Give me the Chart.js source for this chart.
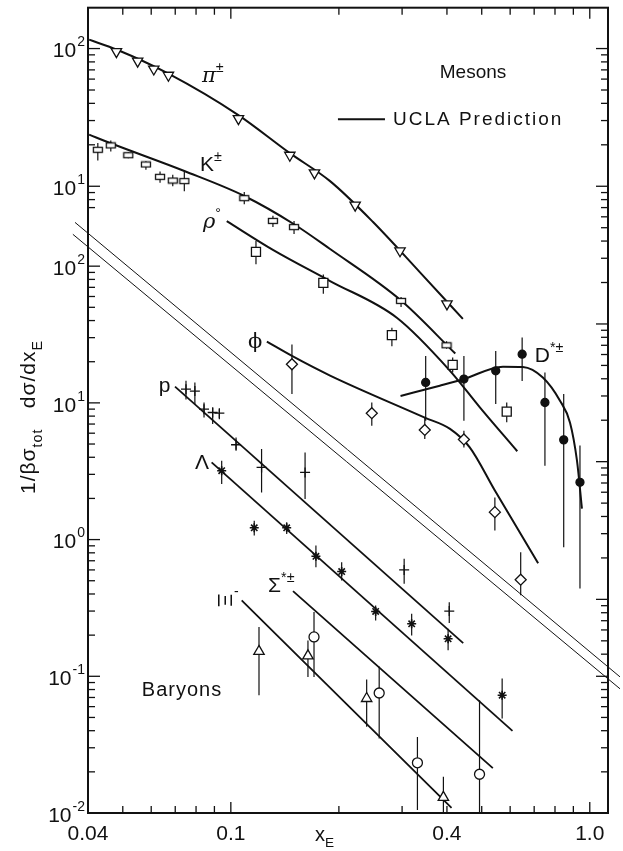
<!DOCTYPE html>
<html>
<head>
<meta charset="utf-8">
<script src="https://cdn.jsdelivr.net/npm/chart.js@4.4.0/dist/chart.umd.min.js"></script>
<style>
  html, body { margin: 0; padding: 0; background: #fff; }
  canvas { display: block; }
</style>
</head>
<body>
<canvas id="chart" width="623" height="851"></canvas>
<script>
const INK = '#111';
const FONT = '"Liberation Sans", Arial, sans-serif';
const SERIF = '"DejaVu Serif", "Liberation Serif", serif';

// ---- mesons (read on the upper scale, 10^2 / 10^1 at top left) ----
const piX = [0.048, 0.055, 0.061, 0.067, 0.105, 0.146, 0.171, 0.222, 0.296, 0.400];
const piY = [95, 81, 71, 64, 31, 16.8, 12.5, 7.3, 3.4, 1.40];
const piCurveX = [0.0403, 0.0482, 0.0668, 0.1047, 0.146, 0.189, 0.249, 0.336, 0.443];
const piCurveY = [116, 98, 66, 33, 17.4, 10.9, 5.5, 2.38, 1.09];

const kX = [0.0426, 0.0463, 0.0518, 0.058, 0.0635, 0.0689, 0.0742, 0.109, 0.131, 0.150, 0.298, 0.399];
const kY = [18.4, 19.8, 16.8, 14.4, 11.7, 11.0, 10.9, 8.2, 5.6, 5.05, 1.47, 0.70];
const kLo = [15.4, 17.9, 16.0, 13.2, 10.6, 10.0, 9.2, 7.4, 5.05, 4.5, 1.33, 0.66];
const kHi = [20.6, 21.5, 17.6, 15.2, 12.8, 12.1, 12.8, 9.1, 6.1, 5.6, 1.57, 0.75];
const kCurveX = [0.0403, 0.0461, 0.0742, 0.109, 0.150, 0.189, 0.298, 0.422];
const kCurveY = [23.7, 20.6, 12.9, 8.5, 5.3, 3.5, 1.48, 0.61];

const rhoX = [0.1175, 0.181, 0.281, 0.415, 0.587];
const rhoY = [3.34, 1.99, 0.83, 0.505, 0.231];
const rhoLo = [2.71, 1.66, 0.69, 0.444, 0.193];
const rhoHi = [4.0, 2.29, 0.94, 0.57, 0.269];
const rhoCurveX = [0.0974, 0.131, 0.189, 0.290, 0.408, 0.494, 0.628];
const rhoCurveY = [5.58, 3.45, 2.05, 1.11, 0.457, 0.248, 0.119];

const phiX = [0.148, 0.247, 0.347, 0.446, 0.544, 0.642];
const phiY = [0.51, 0.225, 0.170, 0.145, 0.043, 0.0139];
const phiLo = [0.31, 0.182, 0.146, 0.127, 0.0316, 0.0107];
const phiHi = [0.71, 0.269, 0.209, 0.168, 0.055, 0.022];
const phiCurveX = [0.126, 0.148, 0.189, 0.347, 0.408, 0.463, 0.544, 0.718];
const phiCurveY = [0.744, 0.586, 0.422, 0.209, 0.173, 0.127, 0.0617, 0.0183];

const dX = [0.349, 0.446, 0.547, 0.648, 0.750, 0.846, 0.939];
const dY = [0.376, 0.398, 0.457, 0.603, 0.269, 0.144, 0.0708];
const dLo = [0.198, 0.198, 0.262, 0.386, 0.0935, 0.0239, 0.012];
const dHi = [0.586, 0.586, 0.637, 0.796, 0.444, 0.31, 0.131];
const dCurveX = [0.297, 0.382, 0.446, 0.573, 0.651, 0.740, 0.826, 0.881, 0.921, 0.951];
const dCurveY = [0.300, 0.356, 0.398, 0.490, 0.487, 0.408, 0.277, 0.192, 0.102, 0.0456];

// ---- baryons (read on the lower scale) ----
const pX = [0.075, 0.0794, 0.0842, 0.089, 0.0929, 0.1034, 0.1218, 0.161, 0.304, 0.406];
const pY = [12.6, 12.2, 9.0, 8.5, 8.4, 4.94, 3.37, 3.10, 0.60, 0.30];
const pLo = [10.6, 9.8, 7.8, 7.0, 7.6, 4.47, 2.21, 1.98, 0.475, 0.245];
const pHi = [14.5, 14.1, 10.05, 9.24, 9.0, 5.58, 4.59, 4.34, 0.723, 0.348];
const pLineX = [0.0699, 0.444];
const pLineY = [13.15, 0.175];

const lamX = [0.0943, 0.1162, 0.1431, 0.1726, 0.2036, 0.2532, 0.319, 0.403, 0.570];
const lamY = [3.19, 1.22, 1.22, 0.755, 0.584, 0.298, 0.242, 0.188, 0.0727];
const lamLo = [2.55, 1.07, 1.10, 0.628, 0.502, 0.256, 0.199, 0.155, 0.0491];
const lamHi = [3.77, 1.376, 1.338, 0.904, 0.683, 0.33, 0.287, 0.223, 0.0962];
const lamLineX = [0.0884, 0.609];
const lamLineY = [3.67, 0.0399];

const sigX = [0.1705, 0.259, 0.331, 0.493];
const sigY = [0.194, 0.0755, 0.0233, 0.0192];
const sigLo = [0.099, 0.0351, 0.0105, 0.005];
const sigHi = [0.295, 0.118, 0.036, 0.0668];
const sigLineX = [0.149, 0.537];
const sigLineY = [0.42, 0.0213];

const xiX = [0.1198, 0.164, 0.239, 0.391];
const xiY = [0.152, 0.141, 0.0688, 0.0130];
const xiLo = [0.0727, 0.099, 0.0427, 0.0095];
const xiHi = [0.229, 0.183, 0.0946, 0.0184];
const xiLineX = [0.1072, 0.412];
const xiLineY = [0.359, 0.0109];

// double line separating the two panels (lower scale)
const sepAX = [0.0368, 1.214];
const sepAY = [209, 0.099];
const sepBX = [0.0363, 1.214];
const sepBY = [171, 0.081];

// axis ticks
const xTickLabels = [0.04, 0.1, 0.4, 1.0];
const upperDecades = [100, 10];
const lowerDecades = [100, 10, 1, 0.1, 0.01];

function pts(xs, ys) {
  return xs.map((x, i) => ({ x: x, y: ys[i] }));
}

function curve(xs, ys, axis, width) {
  return { data: pts(xs, ys), yAxisID: axis, showLine: true, pointRadius: 0,
    borderColor: INK, borderWidth: width, cubicInterpolationMode: 'monotone', order: 1 };
}

function marks(xs, ys, lo, hi, axis, style) {
  return Object.assign({ data: pts(xs, ys), yAxisID: axis, showLine: false, errLo: lo, errHi: hi,
    pointBorderColor: INK, pointBackgroundColor: '#fff', pointBorderWidth: 1.3, order: 0 }, style);
}

// little open box used for the K points
const kBox = document.createElement('canvas');
kBox.width = 12; kBox.height = 8;
const kc = kBox.getContext('2d');
kc.fillStyle = '#fff'; kc.fillRect(1, 1, 10, 6);
kc.strokeStyle = INK; kc.lineWidth = 1.3; kc.strokeRect(1.5, 1.5, 9, 5);

// vertical error bars, drawn under the markers
const errorBars = {
  id: 'errorBars',
  beforeDatasetsDraw(chart) {
    const ctx = chart.ctx, a = chart.chartArea, xs = chart.scales.x;
    ctx.save();
    ctx.beginPath(); ctx.rect(a.left, a.top, a.right - a.left, a.bottom - a.top); ctx.clip();
    ctx.strokeStyle = INK; ctx.lineWidth = 1.2;
    chart.data.datasets.forEach(ds => {
      if (!ds.errLo) return;
      const ys = chart.scales[ds.yAxisID];
      ds.data.forEach((p, i) => {
        const px = xs.getPixelForValue(p.x);
        ctx.beginPath();
        ctx.moveTo(px, ys.getPixelForValue(ds.errLo[i]));
        ctx.lineTo(px, ys.getPixelForValue(ds.errHi[i]));
        ctx.stroke();
      });
    });
    ctx.restore();
  }
};

function logValues(lo, hi) {
  const out = [];
  for (let e = -4; e <= 3; e++) {
    for (let m = 1; m <= 9; m++) {
      const v = m * Math.pow(10, e);
      if (v >= lo * 0.999 && v <= hi * 1.001) out.push({ v: v, major: m === 1 });
    }
  }
  return out;
}

function richWidth(ctx, parts, size) {
  let w = 0;
  parts.forEach(p => {
    const s = (p.sub || p.sup) ? size * 0.68 : size;
    ctx.font = (p.italic ? 'italic ' : '') + s + 'px ' + (p.family || FONT);
    w += ctx.measureText(p.t).width;
  });
  return w;
}

function drawRich(ctx, parts, x, y, size) {
  let cx = x;
  parts.forEach(p => {
    const s = (p.sub || p.sup) ? size * 0.68 : size;
    ctx.font = (p.italic ? 'italic ' : '') + s + 'px ' + (p.family || FONT);
    const dy = p.sub ? size * 0.32 : p.sup ? -size * 0.38 : 0;
    ctx.fillText(p.t, cx, y + dy);
    cx += ctx.measureText(p.t).width;
  });
}

// curve / particle labels, placed in data coordinates
const curveLabels = [
  { parts: [{ t: 'π', italic: true, family: SERIF }, { t: '±', sup: true }], x: 0.0831, y: 62.7, axis: 'yU' },
  { parts: [{ t: 'K' }, { t: '±', sup: true }], x: 0.082, y: 14.3, axis: 'yU' },
  { parts: [{ t: 'ρ', italic: true, family: SERIF }, { t: '°', sup: true }], x: 0.0836, y: 5.49, axis: 'yU' },
  { parts: [{ t: 'ϕ', family: SERIF }], x: 0.1116, y: 0.728, axis: 'yU' },
  { parts: [{ t: 'D' }, { t: '*±', sup: true }], x: 0.703, y: 0.586, axis: 'yU' },
  { parts: [{ t: 'p' }], x: 0.063, y: 13.3, axis: 'y' },
  { parts: [{ t: 'Λ' }], x: 0.0794, y: 3.65, axis: 'y' },
  { parts: [{ t: 'Σ' }, { t: '*±', sup: true }], x: 0.127, y: 0.454, axis: 'y' },
  { parts: [{ t: 'Baryons' }], x: 0.0565, y: 0.079, axis: 'y', size: 20, spacing: 1 },
  { parts: [{ t: 'Mesons' }], x: 0.382, y: 66.6, axis: 'yU', size: 19 }
];

const frame = {
  id: 'frame',
  afterDraw(chart) {
    const ctx = chart.ctx, a = chart.chartArea;
    const xs = chart.scales.x, yl = chart.scales.y, yu = chart.scales.yU;
    ctx.save();
    ctx.strokeStyle = INK; ctx.fillStyle = INK;

    // frame
    ctx.lineWidth = 2;
    ctx.strokeRect(a.left, a.top, a.right - a.left, a.bottom - a.top);

    // x ticks, top and bottom, pointing inward
    ctx.lineWidth = 1.3;
    logValues(0.05, 1.0).forEach(t => {
      const px = xs.getPixelForValue(t.v), len = t.major ? 11 : 7;
      ctx.beginPath();
      ctx.moveTo(px, a.bottom); ctx.lineTo(px, a.bottom - len);
      ctx.moveTo(px, a.top); ctx.lineTo(px, a.top + len);
      ctx.stroke();
    });

    // y ticks: upper scale above the double line, lower scale below it
    function yTicks(scale, lo, hi, x, dir) {
      logValues(Math.max(lo, scale.min), Math.min(hi, scale.max)).forEach(t => {
        const py = scale.getPixelForValue(t.v), len = t.major ? 12 : 7;
        ctx.beginPath(); ctx.moveTo(x, py); ctx.lineTo(x + dir * len, py); ctx.stroke();
      });
    }
    yTicks(yu, 7, 1000, a.left, 1);
    yTicks(yl, 0.01, 100, a.left, 1);
    yTicks(yu, 0.004, 1000, a.right, -1);
    yTicks(yl, 0.01, 0.1, a.right, -1);

    // tick labels
    ctx.textBaseline = 'middle';
    ctx.textAlign = 'center';
    ctx.font = '21px ' + FONT;
    xTickLabels.forEach(v => {
      ctx.fillText(v.toFixed(v < 0.1 ? 2 : 1), xs.getPixelForValue(v), a.bottom + 21);
    });
    ctx.textAlign = 'left';
    function power(v, scale) {
      const exp = String(Math.round(Math.log10(v)));
      const py = scale.getPixelForValue(v);
      ctx.font = '21px ' + FONT;
      const w1 = ctx.measureText('10').width;
      ctx.font = '14px ' + FONT;
      const w2 = ctx.measureText(exp).width;
      const x0 = a.left - 4 - w1 - w2;
      ctx.font = '21px ' + FONT; ctx.fillText('10', x0, py + 3);
      ctx.font = '14px ' + FONT; ctx.fillText(exp, x0 + w1 + 1, py - 6);
    }
    upperDecades.forEach(v => power(v, yu));
    lowerDecades.forEach(v => power(v, yl));

    // axis titles
    ctx.textBaseline = 'alphabetic';
    drawRich(ctx, [{ t: 'x' }, { t: 'E', sub: true }], xs.getPixelForValue(0.2) - 24, a.bottom + 28, 20);
    const yTitle = [{ t: '1/βσ' }, { t: 'tot', sub: true }, { t: '   dσ/dx' }, { t: 'E', sub: true }];
    ctx.translate(a.left - 60, 410);
    ctx.rotate(-Math.PI / 2);
    ctx.letterSpacing = '1px';
    drawRich(ctx, yTitle, -(richWidth(ctx, yTitle, 21) + 14) / 2, 7, 21);
    ctx.letterSpacing = '0px';
    ctx.setTransform(1, 0, 0, 1, 0, 0);

    // particle labels
    ctx.textBaseline = 'middle';
    curveLabels.forEach(l => {
      const px = xs.getPixelForValue(l.x), py = chart.scales[l.axis].getPixelForValue(l.y);
      ctx.letterSpacing = (l.spacing || 0) + 'px';
      drawRich(ctx, l.parts, px, py, l.size || 21);
    });
    ctx.letterSpacing = '0px';

    // Ξ- label, written sideways
    ctx.save();
    ctx.translate(xs.getPixelForValue(0.0957), yl.getPixelForValue(0.359));
    ctx.rotate(Math.PI / 2);
    ctx.textAlign = 'center';
    ctx.font = '21px ' + FONT;
    ctx.fillText('Ξ', 0, 0);
    ctx.restore();
    ctx.font = '14px ' + FONT;
    ctx.fillText('-', xs.getPixelForValue(0.0957) + 10, yl.getPixelForValue(0.359) - 8);

    // legend for the UCLA curves
    const ly = yu.getPixelForValue(30.6);
    ctx.lineWidth = 2;
    ctx.beginPath();
    ctx.moveTo(xs.getPixelForValue(0.1988), ly); ctx.lineTo(xs.getPixelForValue(0.2688), ly);
    ctx.stroke();
    ctx.font = '19px ' + FONT;
    ctx.letterSpacing = '2px';
    ctx.fillText('UCLA Prediction', xs.getPixelForValue(0.2829), ly);
    ctx.restore();
  }
};

const datasets = [
  // separator double line
  Object.assign(curve(sepAX, sepAY, 'y', 1), { clip: false }),
  Object.assign(curve(sepBX, sepBY, 'y', 1), { clip: false }),
  // UCLA predictions
  curve(piCurveX, piCurveY, 'yU', 2),
  curve(kCurveX, kCurveY, 'yU', 2),
  curve(rhoCurveX, rhoCurveY, 'yU', 2),
  curve(phiCurveX, phiCurveY, 'yU', 2),
  curve(dCurveX, dCurveY, 'yU', 2),
  curve(pLineX, pLineY, 'y', 1.8),
  curve(lamLineX, lamLineY, 'y', 1.8),
  curve(sigLineX, sigLineY, 'y', 1.8),
  curve(xiLineX, xiLineY, 'y', 1.8),
  // data
  marks(piX, piY, null, null, 'yU', { pointStyle: 'triangle', rotation: 180, pointRadius: 6 }),
  marks(kX, kY, kLo, kHi, 'yU', { pointStyle: kBox }),
  marks(rhoX, rhoY, rhoLo, rhoHi, 'yU', { pointStyle: 'rect', pointRadius: 6.4 }),
  marks(phiX, phiY, phiLo, phiHi, 'yU', { pointStyle: 'rectRot', pointRadius: 5.5 }),
  marks(dX, dY, dLo, dHi, 'yU', { pointStyle: 'circle', pointRadius: 4, pointBackgroundColor: INK }),
  marks(pX, pY, pLo, pHi, 'y', { pointStyle: 'cross', pointRadius: 5, pointBorderWidth: 1.3 }),
  marks(lamX, lamY, lamLo, lamHi, 'y', { pointStyle: 'star', pointRadius: 4.5, pointBorderWidth: 1.6 }),
  marks(sigX, sigY, sigLo, sigHi, 'y', { pointStyle: 'circle', pointRadius: 5 }),
  marks(xiX, xiY, xiLo, xiHi, 'y', { pointStyle: 'triangle', pointRadius: 6 })
];

new Chart(document.getElementById('chart'), {
  type: 'scatter',
  data: { datasets: datasets },
  options: {
    responsive: false,
    animation: false,
    events: [],
    layout: { padding: { left: 88, right: 15, top: 6, bottom: 38 } },
    scales: {
      x: { type: 'logarithmic', min: 0.04, max: 1.124, display: false },
      y: { type: 'logarithmic', min: 0.01, max: 7773, display: false },
      yU: { type: 'logarithmic', min: 2.81e-4, max: 198, display: false }
    },
    plugins: { legend: { display: false }, tooltip: { enabled: false } }
  },
  plugins: [errorBars, frame]
});
</script>
</body>
</html>
